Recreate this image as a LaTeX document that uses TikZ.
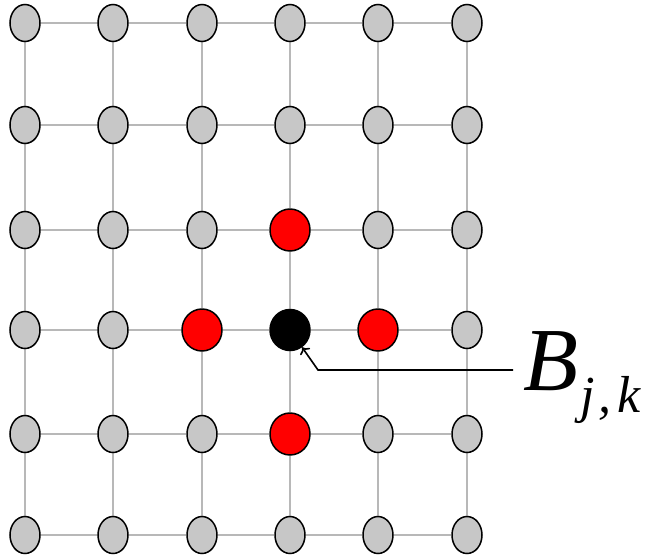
\documentclass[tikz,border=0pt]{standalone}
\usepackage{fontspec}
\setmainfont{Liberation Serif}
\usetikzlibrary{shapes.geometric,backgrounds,arrows.meta}
\tikzset{
  site/.style={ellipse,draw=black,line width=1.5pt,fill=black!22,inner sep=0pt,
    minimum width=30pt,minimum height=37pt},
  nbr/.style={site,fill=red,minimum width=40pt,minimum height=42pt},
  ctr/.style={site,fill=black,minimum width=40pt,minimum height=41pt},
  gridline/.style={draw=black!28,line width=1.8pt}
}
\begin{document}
\begin{tikzpicture}[x=1pt,y=-1pt]
\useasboundingbox (0,0) rectangle (650,557);
\foreach \x [count=\i] in {25,113,202,290,378,467}{
\foreach \y [count=\j] in {23,125,230,330,434,535}{
\node[site] (n\i\j) at (\x,\y) {};
}
}
% the four neighbours and the centre
\node[nbr] (n43) at (n43) {};
\node[nbr] (n34) at (n34) {};
\node[nbr] (n54) at (n54) {};
\node[nbr] (n45) at (n45) {};
\node[ctr] (n44) at (n44) {};
\begin{scope}[on background layer]
\foreach \i in {1,...,6}{
\foreach \j in {1,...,5}{
\pgfmathtruncatemacro\k{\j+1}
\draw[gridline] (n\i\j) -- (n\i\k);
\draw[gridline] (n\j\i) -- (n\k\i);
}
}
\end{scope}
\node[anchor=base west,inner sep=0pt,font=\fontsize{90}{90}\selectfont\itshape] (lab) at (523,390)
  {B\hspace{2pt}\raisebox{-22pt}{\fontsize{52}{52}\selectfont j\hspace{4pt},\hspace{6pt}k}};
\coordinate (tail) at (513,370);
\coordinate (bend) at (318,370);
\draw[-{To[length=6pt,width=12pt]},line width=1.6pt] (tail) -- (bend) -- (n44);
\end{tikzpicture}
\end{document}
